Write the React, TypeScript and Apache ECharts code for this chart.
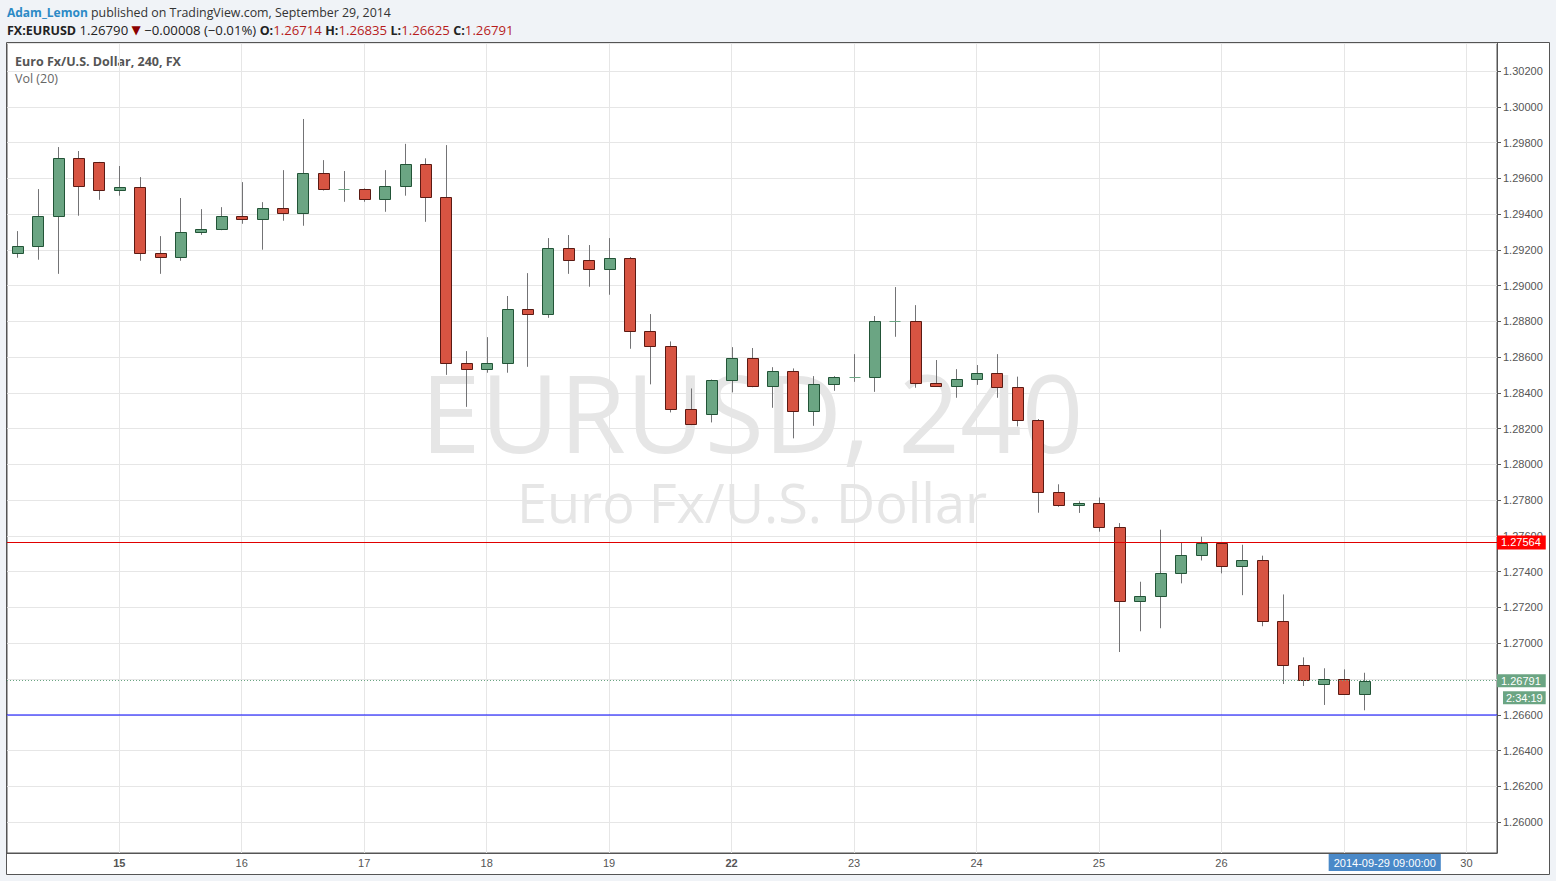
import React, { useEffect, useRef } from 'react';
import * as echarts from 'echarts';

// ---- categories (4-hour bars) ----
const tradingDays = [
  '2014-09-14', '2014-09-15', '2014-09-16', '2014-09-17', '2014-09-18', '2014-09-19',
  '2014-09-22', '2014-09-23', '2014-09-24', '2014-09-25', '2014-09-26', '2014-09-29', '2014-09-30',
];
const barHours = ['00:00', '04:00', '08:00', '12:00', '16:00', '20:00'];
const categories = tradingDays.flatMap((d) => barHours.map((h) => `${d} ${h}`)).slice(1, 74);

// ---- OHLC values ----
const opens = [
  1.29180, 1.29220, 1.29387, 1.29712, 1.29689, 1.29533, 1.29550, 1.29180, 1.29158, 1.29298,
  1.29315, 1.29387, 1.29371, 1.29432, 1.29404, 1.29628, 1.29538, 1.29538, 1.29482, 1.29555,
  1.29678, 1.29494, 1.28565, 1.28532, 1.28565, 1.28867, 1.28839, 1.29208, 1.29141, 1.29091,
  1.29152, 1.28744, 1.28660, 1.28308, 1.28280, 1.28470, 1.28593, 1.28437, 1.28520, 1.28297,
  1.28448, 1.28487, 1.28487, 1.28800, 1.28800, 1.28453, 1.28440, 1.28476, 1.28509, 1.28434,
  1.28248, 1.27848, 1.27774, 1.27787, 1.27648, 1.27236, 1.27264, 1.27392, 1.27493, 1.27560,
  1.27432, 1.27466, 1.27126, 1.26880, 1.26774, 1.26802, 1.26714,
];
const closes = [
  1.29220, 1.29387, 1.29712, 1.29555, 1.29533, 1.29550, 1.29180, 1.29158, 1.29298, 1.29315,
  1.29387, 1.29371, 1.29432, 1.29404, 1.29628, 1.29538, 1.29540, 1.29482, 1.29555, 1.29678,
  1.29494, 1.28565, 1.28532, 1.28565, 1.28867, 1.28839, 1.29208, 1.29141, 1.29091, 1.29152,
  1.28744, 1.28660, 1.28308, 1.28224, 1.28470, 1.28593, 1.28437, 1.28520, 1.28297, 1.28448,
  1.28487, 1.28489, 1.28800, 1.28802, 1.28453, 1.28440, 1.28476, 1.28509, 1.28434, 1.28248,
  1.27848, 1.27774, 1.27787, 1.27648, 1.27236, 1.27264, 1.27392, 1.27493, 1.27560, 1.27432,
  1.27466, 1.27126, 1.26880, 1.26797, 1.26802, 1.26714, 1.26791,
];
const lows = [
  1.29156, 1.29145, 1.29066, 1.29391, 1.29480, 1.29503, 1.29139, 1.29066, 1.29139, 1.29284,
  1.29310, 1.29346, 1.29201, 1.29363, 1.29335, 1.29532, 1.29469, 1.29469, 1.29413, 1.29503,
  1.29357, 1.28501, 1.28322, 1.28513, 1.28513, 1.28546, 1.28820, 1.29066, 1.28994, 1.28949,
  1.28647, 1.28448, 1.28291, 1.28220, 1.28235, 1.28403, 1.28432, 1.28317, 1.28146, 1.28216,
  1.28412, 1.28462, 1.28406, 1.28714, 1.28429, 1.28435, 1.28373, 1.28445, 1.28373, 1.28213,
  1.27730, 1.27763, 1.27729, 1.27624, 1.26951, 1.27067, 1.27084, 1.27335, 1.27463, 1.27391,
  1.27269, 1.27095, 1.26772, 1.26761, 1.26655, 1.26712, 1.26625,
];
const highs = [
  1.29305, 1.29540, 1.29775, 1.29753, 1.29692, 1.29669, 1.29607, 1.29277, 1.29490, 1.29428,
  1.29439, 1.29579, 1.29467, 1.29646, 1.29932, 1.29702, 1.29641, 1.29544, 1.29646, 1.29793,
  1.29712, 1.29786, 1.28634, 1.28712, 1.28942, 1.29070, 1.29266, 1.29283, 1.29227, 1.29266,
  1.29160, 1.28841, 1.28688, 1.28425, 1.28475, 1.28656, 1.28651, 1.28544, 1.28537, 1.28494,
  1.28494, 1.28617, 1.28830, 1.28992, 1.28891, 1.28584, 1.28533, 1.28556, 1.28617, 1.28491,
  1.28254, 1.27889, 1.27794, 1.27815, 1.27672, 1.27344, 1.27635, 1.27564, 1.27596, 1.27564,
  1.27551, 1.27490, 1.27273, 1.26921, 1.26860, 1.26854, 1.26835,
];

// ---- horizontal levels ----
const resistanceLevel = 1.27564;
const lastPrice = 1.26791;
const supportLevel = 1.266;
const drawnLevels = [resistanceLevel, supportLevel];
const countdownText = '2:34:19';
const cursorTimeText = '2014-09-29 09:00:00';
const cursorCategoryIndex = 67;
const hiddenDayLabel = '2014-09-29 00:00'; // covered by the cursor time box

const yMin = 1.25827;
const yMax = 1.30357;
const yStep = 0.002;

const UP_FILL = '#6ba583';
const UP_EDGE = '#225437';
const DN_FILL = '#d75442';
const DN_EDGE = '#5b1a13';
const WICK = '#737375';
const GRIDC = '#e6e6e6';
const AXISC = '#555555';
const LEVEL_COLORS = ['#e00000', '#0000ff'];
const LEVEL_SNAP = [0.5, 0];
const CLEAR = 'rgba(0,0,0,0)';
const HF = '"Open Sans", "Noto Sans", sans-serif';
const AF = 'Arial, "Liberation Sans", sans-serif';

const dayStarts = categories.filter((c) => c.endsWith('00:00'));

function renderCandle(params: any, api: any) {
  const idx = api.value(0);
  const o = api.value(1);
  const c = api.value(2);
  const l = api.value(3);
  const h = api.value(4);
  const pO = api.coord([idx, o]);
  const yC = api.coord([idx, c])[1];
  const yL = api.coord([idx, l])[1];
  const yH = api.coord([idx, h])[1];
  const cx = pO[0];
  const band = api.size([1, 0])[0];
  const bw = Math.max(3, Math.round(band * 0.54));
  const x = Math.round(cx) + 0.5;
  const up = c >= o;
  const top = Math.round(Math.min(pO[1], yC)) + 0.5;
  const bot = Math.round(Math.max(pO[1], yC)) + 0.5;
  const left = Math.round(cx - bw / 2) + 0.5;
  const children: any[] = [
    { type: 'line', shape: { x1: x, y1: yH, x2: x, y2: yL }, style: { stroke: WICK, lineWidth: 1 } },
  ];
  if (bot - top < 1) {
    children.push({
      type: 'line',
      shape: { x1: left, y1: top, x2: left + bw, y2: top },
      style: { stroke: UP_FILL, lineWidth: 1 },
    });
  } else {
    children.push({
      type: 'rect',
      shape: { x: left, y: top, width: bw, height: bot - top },
      style: { fill: up ? UP_FILL : DN_FILL, stroke: up ? UP_EDGE : DN_EDGE, lineWidth: 1 },
    });
  }
  return { type: 'group', children };
}

function renderLevel(params: any, api: any) {
  const cs = params.coordSys;
  const i = params.dataIndex;
  const y = Math.round(api.coord([0, api.value(1)])[1]) + LEVEL_SNAP[i];
  return {
    type: 'line',
    shape: { x1: cs.x, y1: y, x2: cs.x + cs.width, y2: y },
    style: { stroke: LEVEL_COLORS[i], lineWidth: 1 },
  };
}

function xLabel(value: string) {
  const d = value.split(' ')[0];
  const day = String(Number(d.slice(8)));
  const dow = new Date(d + 'T00:00:00Z').getUTCDay();
  return dow === 1 ? `{b|${day}}` : day;
}

const boxLabel = (text: string, bg: string, padding: number[], extra: any = {}) => ({
  show: true,
  formatter: text,
  backgroundColor: bg,
  color: '#ffffff',
  fontSize: 11,
  fontFamily: AF,
  padding,
  ...extra,
});

const option: any = {
  animation: false,
  backgroundColor: '#f0f3f7',
  graphic: [
    {
      type: 'rect',
      shape: { x: 6.5, y: 42.5, width: 1543, height: 832 },
      style: { fill: '#ffffff', stroke: AXISC, lineWidth: 1 },
    },
    {
      type: 'text',
      x: 752,
      y: 411,
      style: {
        text: 'EURUSD, 240',
        fontSize: 108,
        fontFamily: HF,
        fill: '#e6e6e6',
        align: 'center',
        verticalAlign: 'middle',
      },
    },
    {
      type: 'text',
      x: 752,
      y: 502,
      style: {
        text: 'Euro Fx/U.S. Dollar',
        fontSize: 54,
        fontFamily: HF,
        fill: '#e6e6e6',
        align: 'center',
        verticalAlign: 'middle',
      },
    },
    {
      type: 'text',
      x: 7,
      y: 12,
      style: {
        text: '{u|Adam_Lemon}{t| published on TradingView.com, September 29, 2014}',
        fontSize: 12,
        fontFamily: HF,
        verticalAlign: 'middle',
        rich: {
          u: { fontSize: 12, fontFamily: HF, fontWeight: 'bold', fill: '#2b8ac6' },
          t: { fontSize: 12.4, fontFamily: HF, fill: '#333333' },
        },
      },
    },
    {
      type: 'text',
      x: 7,
      y: 30,
      style: {
        text:
          '{k|FX:EURUSD}{n| 1.26790 }{dn|▼}{n| −0.00008 (−0.01%) }{k|O:}{r|1.26714}{n| }{k|H:}{r|1.26835}{n| }{k|L:}{r|1.26625}{n| }{k|C:}{r|1.26791}',
        fontSize: 12,
        fontFamily: HF,
        verticalAlign: 'middle',
        rich: {
          k: { fontSize: 12.5, fontFamily: HF, fontWeight: 'bold', fill: '#222222' },
          n: { fontSize: 13.2, fontFamily: HF, fill: '#222222' },
          dn: { fontSize: 12, fontFamily: 'DejaVu Sans, sans-serif', fill: '#8b0000' },
          r: { fontSize: 13.2, fontFamily: HF, fill: '#b71c1c' },
        },
      },
    },
    {
      type: 'text',
      x: 15,
      y: 61,
      style: {
        text: 'Euro Fx/U.S. Dollar, 240, FX',
        fontSize: 12.5,
        fontFamily: HF,
        fontWeight: 'bold',
        fill: '#555555',
        verticalAlign: 'middle',
      },
    },
    {
      type: 'text',
      x: 15,
      y: 78,
      style: {
        text: 'Vol (20)',
        fontSize: 12.5,
        fontFamily: HF,
        fill: '#666666',
        verticalAlign: 'middle',
      },
    },
  ],
  grid: {
    left: 7,
    right: 59,
    top: 43,
    bottom: 28,
    show: true,
    borderColor: AXISC,
    borderWidth: 1,
    backgroundColor: 'transparent',
    z: 1,
  },
  xAxis: {
    type: 'category',
    data: categories,
    boundaryGap: true,
    z: 1,
    axisLine: { show: true, lineStyle: { color: AXISC } },
    axisTick: { show: false },
    splitLine: { show: false },
    axisLabel: {
      interval: (_i: number, v: string) => v.endsWith('00:00') && v !== hiddenDayLabel,
      formatter: xLabel,
      color: AXISC,
      fontSize: 11,
      fontFamily: AF,
      margin: 4,
      rich: { b: { fontWeight: 'bold', color: AXISC, fontSize: 11, fontFamily: AF } },
    },
  },
  yAxis: {
    type: 'value',
    position: 'right',
    min: yMin,
    max: yMax,
    minInterval: yStep,
    maxInterval: yStep,
    z: 1,
    axisLine: { show: true, lineStyle: { color: AXISC } },
    axisTick: { show: true, length: 4, lineStyle: { color: AXISC } },
    axisLabel: {
      color: AXISC,
      fontSize: 11,
      fontFamily: AF,
      margin: 6,
      showMinLabel: false,
      showMaxLabel: false,
      formatter: (v: number) => v.toFixed(5),
    },
    splitLine: { show: true, lineStyle: { color: GRIDC, width: 1 } },
  },
  series: [
    {
      name: 'day-lines',
      type: 'line',
      data: closes,
      symbol: 'none',
      silent: true,
      lineStyle: { color: CLEAR, width: 0 },
      z: 1,
      markLine: {
        silent: true,
        z: 1,
        precision: 5,
        symbol: ['none', 'none'],
        label: { show: false },
        lineStyle: { color: GRIDC, type: 'solid', width: 1 },
        data: dayStarts.map((c) => ({ xAxis: c })),
      },
    },
    {
      name: 'EURUSD',
      type: 'custom',
      renderItem: renderCandle,
      encode: { x: 0, y: [1, 2, 3, 4] },
      data: opens.map((o, i) => [i, o, closes[i], lows[i], highs[i]]),
      z: 3,
    },
    {
      name: 'drawn-levels',
      type: 'custom',
      renderItem: renderLevel,
      encode: { x: 0, y: 1 },
      data: drawnLevels.map((v) => [0, v]),
      silent: true,
      clip: false,
      z: 4,
    },
    {
      name: 'level-labels',
      type: 'line',
      data: closes,
      symbol: 'none',
      silent: true,
      lineStyle: { color: CLEAR, width: 0 },
      z: 4,
      markLine: {
        silent: true,
        z: 5,
        precision: 5,
        symbol: ['none', 'none'],
        data: [
          {
            yAxis: resistanceLevel,
            lineStyle: { color: CLEAR, width: 0 },
            label: boxLabel(resistanceLevel.toFixed(5), '#ff0000', [2, 5, 1, 4], {
              position: 'end',
              distance: 0,
            }),
          },
          {
            yAxis: lastPrice,
            lineStyle: { color: UP_FILL, type: [1, 2], width: 1 },
            label: boxLabel(lastPrice.toFixed(5), UP_FILL, [1, 5, 1, 4], {
              position: 'end',
              distance: 0,
            }),
          },
          {
            yAxis: lastPrice,
            lineStyle: { color: CLEAR, width: 0 },
            label: boxLabel(countdownText, UP_FILL, [1, 3, 1, 3], {
              position: 'end',
              distance: 6,
              offset: [0, 17],
            }),
          },
          {
            xAxis: categories[cursorCategoryIndex],
            lineStyle: { color: CLEAR, width: 0 },
            label: boxLabel(cursorTimeText, '#4a89c8', [3, 5, 3, 5], {
              position: 'start',
              distance: 1,
            }),
          },
        ],
      },
    },
  ],
};

export default function App() {
  const ref = useRef<HTMLDivElement>(null);
  useEffect(() => {
    document.body.style.margin = '0';
    const chart = echarts.init(ref.current as HTMLDivElement, undefined, { renderer: 'svg' });
    chart.setOption(option);
    return () => {
      chart.dispose();
    };
  }, []);
  return <div ref={ref} style={{ width: 1556, height: 881 }} />;
}
